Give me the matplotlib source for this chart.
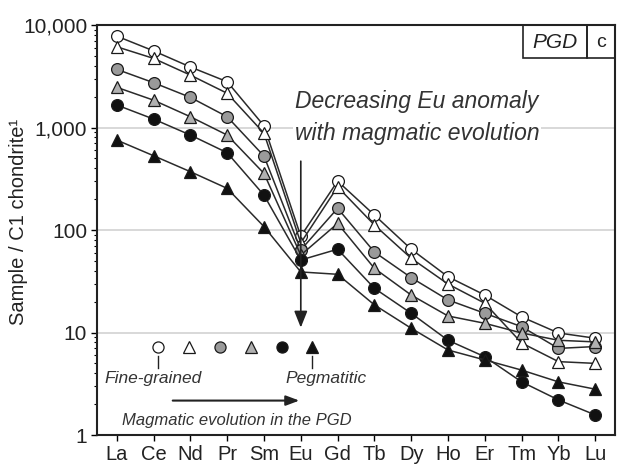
import numpy as np
import matplotlib.pyplot as plt
from matplotlib.patches import Rectangle

plt.rcParams['font.family'] = ['Liberation Sans', 'DejaVu Sans']

elements = ["La", "Ce", "Nd", "Pr", "Sm", "Eu", "Gd", "Tb", "Dy", "Ho", "Er", "Tm", "Yb", "Lu"]

# REE / C1 chondrite, most primitive (fine-grained) -> pegmatitic
fine_circle = [7800, 5600, 3900, 2800, 1040, 87, 300, 140, 65, 35, 23.2, 14.2, 9.9, 8.8]
fine_triangle = [6140, 4730, 3250, 2160, 880, 75, 264, 112, 53, 29.7, 19.3, 7.9, 5.2, 5.0]
grey_circle = [3700, 2740, 1970, 1275, 527, 64, 163, 61, 34.3, 20.8, 15.4, 11.4, 7.0, 7.3]
grey_triangle = [2470, 1850, 1275, 845, 357, 57, 116, 42.3, 23.2, 14.5, 12.3, 9.9, 8.4, 8.1]
black_circle = [1660, 1210, 845, 568, 219, 51, 65, 27, 15.4, 8.4, 5.8, 3.3, 2.2, 1.57]
pegmatitic = [755, 531, 371, 255, 108, 39, 37, 18.6, 11, 6.75, 5.4, 4.3, 3.3, 2.8]

series = [fine_circle, fine_triangle, grey_circle, grey_triangle, black_circle, pegmatitic]
markers = ['o', '^', 'o', '^', 'o', '^']
faces = ['white', 'white', '#9a9a9a', '#b0b0b0', '#111111', '#111111']

fig = plt.figure(figsize=(6.17, 4.73), dpi=100)
ax = fig.add_axes([0.157, 0.0803, 0.84, 0.8667])

x = np.arange(len(elements))
for vals, m, fc in zip(series, markers, faces):
    ms = 8.5 if m == 'o' else 9
    ax.plot(x, vals, color='#2a2a2a', lw=1.1, marker=m, ms=ms,
            mfc=fc, mec='#1a1a1a', mew=0.9, zorder=3)

ax.set_yscale('log')
ax.set_ylim(1, 10000)
ax.set_xlim(-0.54, 13.54)
for g in [10, 100, 1000]:
    ax.axhline(g, color='#d2d2d2', lw=1.2, zorder=0)

ax.set_xticks(x)
ax.set_xticklabels(elements, fontsize=14.5, color='#222222')
ax.set_yticks([1, 10, 100, 1000, 10000])
ax.set_yticklabels(['1', '10', '100', '1,000', '10,000'], fontsize=15, color='#222222')
ax.tick_params(axis='both', which='major', direction='out', length=4, width=1, pad=3)
ax.tick_params(axis='y', which='minor', direction='out', length=2.5, width=0.8)
ax.tick_params(top=False, right=False)
for s in ax.spines.values():
    s.set_linewidth(1.5)
    s.set_color('#222222')
ax.set_ylabel('Sample / C1 chondrite\u00b9', fontsize=14.5, color='#222222')
ax.yaxis.set_label_coords(-0.133, 0.52)

# Eu anomaly arrow and text
ax.annotate('', xy=(5, 10.5), xytext=(5, 500),
            arrowprops=dict(arrowstyle='-|>,head_length=1.0,head_width=0.4',
                            color='#222222', lw=1.2), zorder=4)
ax.text(0.618, 0.775, 'Decreasing Eu anomaly\nwith magmatic evolution',
        transform=ax.transAxes, ha='center', va='center', fontsize=16.5,
        style='italic', color='#333333', linespacing=1.5,
        bbox=dict(facecolor='white', edgecolor='none', pad=1), zorder=2)

# PGD | c box
ax.add_patch(Rectangle((0.822, 0.919), 0.124, 0.081, transform=ax.transAxes,
                       fill=False, ec='#222222', lw=1.2, clip_on=False))
ax.add_patch(Rectangle((0.946, 0.919), 0.054, 0.081, transform=ax.transAxes,
                       fill=False, ec='#222222', lw=1.2, clip_on=False))
ax.text(0.884, 0.958, 'PGD', transform=ax.transAxes, ha='center', va='center',
        fontsize=15, style='italic', color='#222222')
ax.text(0.973, 0.958, 'c', transform=ax.transAxes, ha='center', va='center',
        fontsize=14, color='#222222')

# symbol key along the bottom
kx = np.linspace(0.118, 0.416, 6)
for xx, m, fc in zip(kx, markers, faces):
    ax.plot([xx], [0.215], marker=m, ms=8 if m == 'o' else 8.5, mfc=fc,
            mec='#1a1a1a', mew=0.9, transform=ax.transAxes, clip_on=False)
for xx in [kx[0], kx[-1]]:
    ax.plot([xx, xx], [0.163, 0.193], color='#222222', lw=1, transform=ax.transAxes)
ax.text(0.109, 0.139, 'Fine-grained', transform=ax.transAxes, ha='center', va='center',
        fontsize=12.5, style='italic', color='#333333')
ax.text(0.443, 0.139, 'Pegmatitic', transform=ax.transAxes, ha='center', va='center',
        fontsize=12.5, style='italic', color='#333333')
ax.annotate('', xy=(0.396, 0.084), xytext=(0.141, 0.084), xycoords='axes fraction',
            arrowprops=dict(arrowstyle='-|>,head_length=0.8,head_width=0.3',
                            color='#222222', lw=1.5))
ax.text(0.270, 0.035, 'Magmatic evolution in the PGD', transform=ax.transAxes,
        ha='center', va='center', fontsize=12, style='italic', color='#333333')

fig.savefig('out.png', dpi=100)
